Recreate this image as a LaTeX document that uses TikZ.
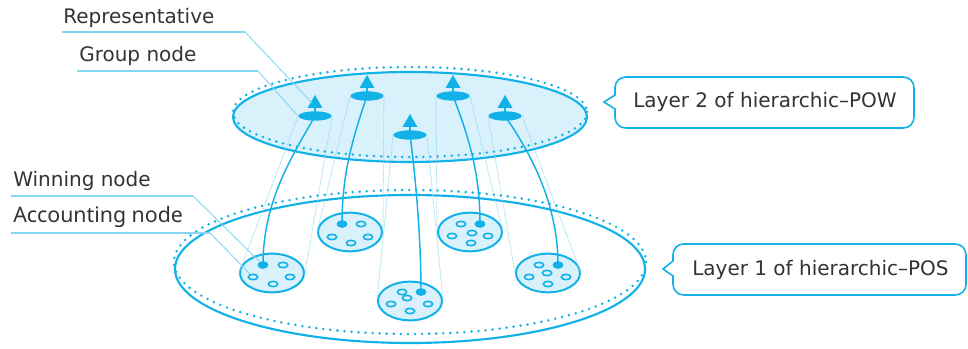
\documentclass[tikz,border=0pt]{standalone}
\usepackage{fontspec}
\setmainfont{DejaVu Sans}
\newfontfamily\accfont{Noto Sans}
\usetikzlibrary{shapes.geometric,calc}
\definecolor{cy}{HTML}{12B2E8}
\definecolor{cyfill}{HTML}{D8F1FB}
\definecolor{cylight}{HTML}{86D6F2}
\definecolor{txt}{HTML}{333333}
\begin{document}
\begin{tikzpicture}[x=0.75pt,y=-0.75pt,
  layer/.style={draw=cy,line width=1.6pt},
  dotring/.style={draw=cy,line width=2.1pt,line cap=round,dash pattern=on 0pt off 5.3pt},
  grp/.style={ellipse,fill=cy,minimum width=25pt,minimum height=7pt,inner sep=0},
  cell/.style={ellipse,draw=cy,fill=cyfill,line width=1.5pt,minimum width=48pt,minimum height=29pt,inner sep=0},
  acc/.style={ellipse,draw=cy,line width=1.2pt,minimum width=7pt,minimum height=4pt,inner sep=0},
  win/.style={ellipse,fill=cy,minimum width=8pt,minimum height=5.5pt,inner sep=0},
  link/.style={draw=cy,line width=1.1pt},
  proj/.style={draw=cylight,line width=0.6pt,dash pattern=on 0.8pt off 0.8pt},
  lead/.style={draw=cylight,line width=0.7pt},
  leadbar/.style={draw=cylight,line width=1.6pt},
  lbl/.style={text=txt,font=\fontsize{15}{18}\selectfont,anchor=base west,inner sep=0},
  callout/.style={draw=cy,line width=1.2pt,fill=white},
  tri/.style={fill=cy},
]
\useasboundingbox (0,0) rectangle (968,349);

% ---- layer 1 ----
\draw[dotring] (410,262) ellipse [x radius=236, y radius=72];
\draw[layer] (410,269) ellipse [x radius=235, y radius=74];

% cells
\node[cell] (c1) at (272,273) {};
\node[cell] (c2) at (350,232) {};
\node[cell] (c3) at (410,301) {};
\node[cell] (c4) at (470,232) {};
\node[cell] (c5) at (548,273) {};

% ---- layer 2 ----
\draw[layer,fill=cyfill] (410,117) ellipse [x radius=177, y radius=45];
\draw[dotring] (410,112) ellipse [x radius=177, y radius=45];

% group nodes
\node[grp] (g1) at (315,116) {};
\node[grp] (g2) at (367,96) {};
\node[grp] (g3) at (410,135) {};
\node[grp] (g4) at (453,96) {};
\node[grp] (g5) at (505,116) {};

% projection lines
\foreach \i in {1,...,5}{
  \draw[proj] (g\i.west) -- (c\i.west);
  \draw[proj] (g\i.east) -- (c\i.east);
}

% winning nodes
\node[win] (w1) at ([shift={(-9,-8)}]c1) {};
\node[win] (w2) at ([shift={(-8,-8)}]c2) {};
\node[win] (w3) at ([shift={(11,-9)}]c3) {};
\node[win] (w4) at ([shift={(10,-8)}]c4) {};
\node[win] (w5) at ([shift={(10,-8)}]c5) {};

% accounting nodes
\foreach \p [count=\k] in {(11,-8),(-19,4),(18,4),(1,11)}
  \node[acc] (a1-\k) at ([shift={\p}]c1) {};
\foreach \p [count=\k] in {(11,-8),(-18,5),(18,5),(1,11)}
  \node[acc] (a2-\k) at ([shift={\p}]c2) {};
\foreach \p [count=\k] in {(-8,-9),(-3,-3),(-19,3),(18,3),(0,10)}
  \node[acc] (a3-\k) at ([shift={\p}]c3) {};
\foreach \p [count=\k] in {(-9,-8),(2,1),(-18,4),(18,4),(1,11)}
  \node[acc] (a4-\k) at ([shift={\p}]c4) {};
\foreach \p [count=\k] in {(-9,-8),(-1,0),(-19,4),(18,4),(0,11)}
  \node[acc] (a5-\k) at ([shift={\p}]c5) {};

% links group -> winning
\draw[link] (g1.center) .. controls (293,155) and (263,200) .. (w1.center);
\draw[link] (g2.center) .. controls (352,140) and (342,175) .. (w2.center);
\draw[link] (g3.center) .. controls (416,180) and (421,240) .. (w3.center);
\draw[link] (g4.center) .. controls (470,140) and (480,175) .. (w4.center);
\draw[link] (g5.center) .. controls (532,155) and (558,205) .. (w5.center);

% representatives (triangles)
\foreach \i in {1,...,5}{
  \draw[cy,line width=1pt] (g\i.center) -- ([shift={(0,-10)}]g\i.center);
  \fill[tri] ([shift={(0,-21)}]g\i.center) coordinate (r\i) -- ([shift={(-7.5,-8)}]g\i.center) -- ([shift={(7.5,-8)}]g\i.center) -- cycle;
}
\node[win] at (w1) {};
\node[win] at (w2) {};
\node[win] at (w3) {};
\node[win] at (w4) {};
\node[win] at (w5) {};

% ---- labels ----
\node[lbl] (lRep) at (63,24) {Representative};
\coordinate (bRep) at (245,32);
\draw[leadbar] (62,32) -- (bRep);
\draw[lead] (bRep) -- ([shift={(-3,-13)}]g1.center);

\node[lbl] (lGrp) at (79,62) {Group node};
\coordinate (bGrp) at (258,71);
\draw[leadbar] (77,71) -- (bGrp);
\draw[lead] (bGrp) -- ([shift={(-1,-1)}]g1.west);

\node[lbl] (lWin) at (13,187) {Winning node};
\coordinate (bWin) at (193,196);
\draw[leadbar] (11,196) -- (bWin);
\draw[lead] (bWin) -- (w1);

\node[lbl,font=\accfont\fontsize{16}{18}\selectfont] (lAcc) at (13,223) {Accounting node};
\coordinate (bAcc) at (210,233);
\draw[leadbar] (11,233) -- (bAcc);
\draw[lead] (bAcc) -- (a1-2);

% ---- callouts ----
\draw[callout] (615,95) [rounded corners=8pt] -- (615,77) -- (914,77) -- (914,128) -- (615,128) [sharp corners] -- (615,109) -- (604,102) -- cycle;
\node[lbl] (t2) at (633,108) {Layer 2 of hierarchic–POW};

\draw[callout] (673,261) [rounded corners=8pt] -- (673,244) -- (966,244) -- (966,295) -- (673,295) [sharp corners] -- (673,276) -- (663,269) -- cycle;
\node[lbl] (t1) at (692,276) {Layer 1 of hierarchic–POS};
\end{tikzpicture}
\end{document}
